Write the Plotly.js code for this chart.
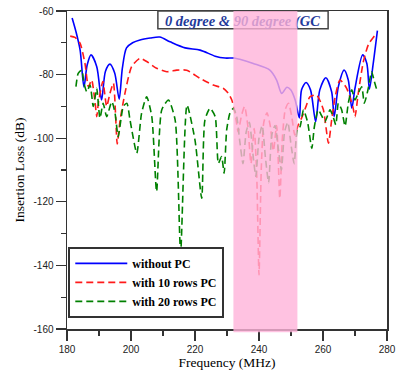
<!DOCTYPE html>
<html>
<head>
<meta charset="utf-8">
<script src="https://cdn.plot.ly/plotly-3.0.1.min.js"></script>
<style>html,body{margin:0;padding:0;background:#fff;}#chart{width:397px;height:376px;}</style>
</head>
<body>
<div id="chart"></div>
<script>
// ---- data ----
const seriesNames = ["without PC", "with 10 rows PC", "with 20 rows PC"];
const titleText = "0 degree & 90 degree (GC";
const xTickVals = [180, 200, 220, 240, 260, 280];
const yTickVals = [-60, -80, -100, -120, -140, -160];
const bandRange = [232, 252];

const freqBlue = [181.6, 182.8, 184.1, 185.3, 186.3, 187.5, 189.3, 190.8, 192.0, 193.4, 194.9, 196.3, 197.3, 198.6, 200.5, 202.8, 206, 209, 212.2, 216.9, 221.6, 226.3, 229.4, 232.2, 234, 238.2, 243.4, 245.5, 247.1, 248.7, 249.9, 251.3, 252.6, 253.3, 254.7, 256.1, 257.7, 259, 260.9, 262.7, 263.5, 264.8, 266.6, 267.9, 269, 270, 272.4, 273.7, 274.5, 275.7, 277];
const lossBlue = [-62.2, -66.5, -72.3, -83.9, -77, -73.8, -77.5, -88, -79, -76.7, -79.5, -87.7, -78, -71.6, -70, -69.1, -68.5, -68.2, -69.7, -71.6, -72.3, -74.2, -74.8, -74.8, -75.2, -76.5, -78.6, -81.7, -85.9, -84, -84.8, -88, -93.6, -84.8, -82.5, -84.8, -94.8, -84.8, -81, -85.4, -93.2, -83.8, -78.6, -81.7, -90.6, -84.3, -73.8, -76.5, -84.6, -76.5, -66.2];

const freqRed = [181, 182.5, 184.1, 185.6, 186.7, 187.7, 188.8, 189.3, 189.8, 191.2, 192.4, 193.4, 194.5, 195.7, 196.6, 198.1, 200.2, 202.8, 204.9, 208, 211.2, 214.3, 217.4, 221.6, 225.7, 228.8, 230.4, 231.5, 232.5, 233.5, 234.5, 235.5, 236.5, 237.5, 238.5, 239.3, 240, 240.7, 241.5, 242.5, 243.5, 244.5, 245.5, 246.5, 247.3, 248.2, 249.2, 250.2, 251.2, 252.2, 253.3, 254.7, 255.9, 258, 260.1, 261.7, 262.7, 263.8, 265.3, 267.4, 269.3, 270, 271, 272.6, 274.2, 275.7, 277];
const lossRed = [-67.9, -68.3, -70.2, -76.4, -83.8, -81.7, -89, -93.2, -89, -82.2, -90, -86, -82.7, -101.8, -94.3, -85.9, -77.5, -74.9, -75.9, -78, -79.1, -78.6, -78.6, -81.2, -83.3, -84.3, -85.9, -88, -92, -98, -93, -90, -96, -108, -97, -112, -143, -110, -95, -92, -96, -104, -96, -119, -100, -91, -89, -93, -99, -96, -93.7, -90, -87, -86.4, -91, -101.6, -94.3, -87, -81.7, -84.3, -90, -93.2, -86, -76, -70.5, -68.3, -67];

const freqGreen = [182.8, 183.5, 184.6, 185.3, 186.2, 187.2, 188.2, 188.8, 189.3, 190.3, 191.3, 192.4, 194, 195, 196, 197.6, 198.7, 199.7, 201.8, 203.3, 204.9, 206.5, 208, 209.6, 211.7, 213.8, 215.5, 217.5, 220, 222.1, 223.1, 224.7, 226.3, 227.3, 228.3, 229.1, 229.9, 230.9, 232, 233, 234, 235, 236, 237, 238, 239, 240, 241, 242, 243, 244, 245, 246, 247, 248, 249, 250, 251, 252, 252.8, 253.9, 255.2, 256.5, 257.3, 258.5, 259.6, 260.6, 262.2, 263.1, 264, 264.8, 265.8, 266.9, 267.9, 269, 270, 271, 272.1, 272.9, 274, 275.2, 276, 276.8];
const lossGreen = [-83.8, -79.6, -78.6, -82.7, -85.4, -83.3, -90, -87, -84.3, -93.7, -89, -93.2, -88.5, -92, -99.5, -90, -89, -94.3, -104.7, -92.2, -87, -93.2, -116.8, -91.1, -88, -94.3, -136, -89.6, -100.6, -118.9, -94.3, -90.6, -93.2, -107.9, -105.8, -111, -97.4, -92.2, -90.6, -93, -101, -108, -98, -95, -104, -112, -100, -96, -106, -114, -99, -96, -103, -110, -98, -95, -102, -108, -97, -96.4, -91.1, -95, -103.2, -96.4, -91.1, -93, -94.8, -91.1, -93, -95.8, -89, -91, -96.2, -89, -84.8, -88, -85.9, -83.8, -89, -85, -79.1, -82, -84.8];

// ---- chart ----
const traces = [
  {x: freqBlue, y: lossBlue, name: seriesNames[0], type: 'scatter', mode: 'lines',
   line: {color: '#0000ff', width: 1.6, shape: 'spline', smoothing: 0.8}},
  {x: freqRed, y: lossRed, name: seriesNames[1], type: 'scatter', mode: 'lines',
   line: {color: '#ff1a1a', width: 1.6, dash: '7px,4px', shape: 'spline', smoothing: 0.6}},
  {x: freqGreen, y: lossGreen, name: seriesNames[2], type: 'scatter', mode: 'lines',
   line: {color: '#008000', width: 1.6, dash: '7px,4px', shape: 'spline', smoothing: 0.6}}
];

const tickFont = {family: 'Liberation Sans, Arial, sans-serif', size: 10, color: '#222'};
const titleFont = {family: 'Liberation Serif, Times New Roman, serif', size: 13.5, color: '#000'};

const layout = {
  width: 397, height: 376,
  margin: {l: 67, r: 10, t: 11, b: 47},
  paper_bgcolor: '#fff', plot_bgcolor: '#fff',
  showlegend: true,
  legend: {
    x: 0.004, y: 0.035, xanchor: 'left', yanchor: 'bottom',
    bgcolor: '#fff', bordercolor: '#333', borderwidth: 2,
    itemwidth: 52,
    font: {family: 'Liberation Serif, Times New Roman, serif', size: 12, color: '#000', weight: 'bold'},
    tracegroupgap: 0
  },
  xaxis: {
    range: [180, 280], tickvals: xTickVals, ticktext: xTickVals.map(String),
    ticks: 'outside', ticklen: 10, tickwidth: 1.2, tickcolor: '#333',
    minor: {dtick: 10, ticks: 'outside', ticklen: 5, tickwidth: 1.2, tickcolor: '#333', showgrid: false},
    showgrid: false, zeroline: false,
    showline: true, linecolor: '#333', linewidth: 1.5, mirror: true,
    tickfont: tickFont,
    title: {text: 'Frequency (MHz)', font: titleFont, standoff: 4}
  },
  yaxis: {
    range: [-160, -60], tickvals: yTickVals, ticktext: yTickVals.map(String),
    ticks: 'outside', ticklen: 10, tickwidth: 1.2, tickcolor: '#333',
    minor: {dtick: 10, ticks: 'outside', ticklen: 5, tickwidth: 1.2, tickcolor: '#333', showgrid: false},
    showgrid: false, zeroline: false,
    showline: true, linecolor: '#333', linewidth: 1.5, mirror: true,
    tickfont: tickFont,
    title: {text: 'Insertion Loss (dB)', font: titleFont, standoff: 6}
  },
  shapes: [
    {type: 'rect', xref: 'paper', yref: 'paper', x0: 0.284, x1: 0.816, y0: 0.944, y1: 1.0,
     layer: 'above', fillcolor: '#fff', line: {color: '#444', width: 1.5},
     label: {text: '<b><i>' + titleText + '</i></b>', textposition: 'middle left', padding: 4,
             font: {family: 'Liberation Serif, Times New Roman, serif', size: 14.5, color: '#1f3a9a'}}},
    {type: 'rect', xref: 'x', yref: 'paper', x0: bandRange[0], x1: bandRange[1], y0: -0.01, y1: 1.0,
     layer: 'above', fillcolor: '#ffb3d9', opacity: 0.8, line: {width: 0}}
  ]
};

Plotly.newPlot('chart', traces, layout, {displayModeBar: false, staticPlot: true});
</script>
</body>
</html>
